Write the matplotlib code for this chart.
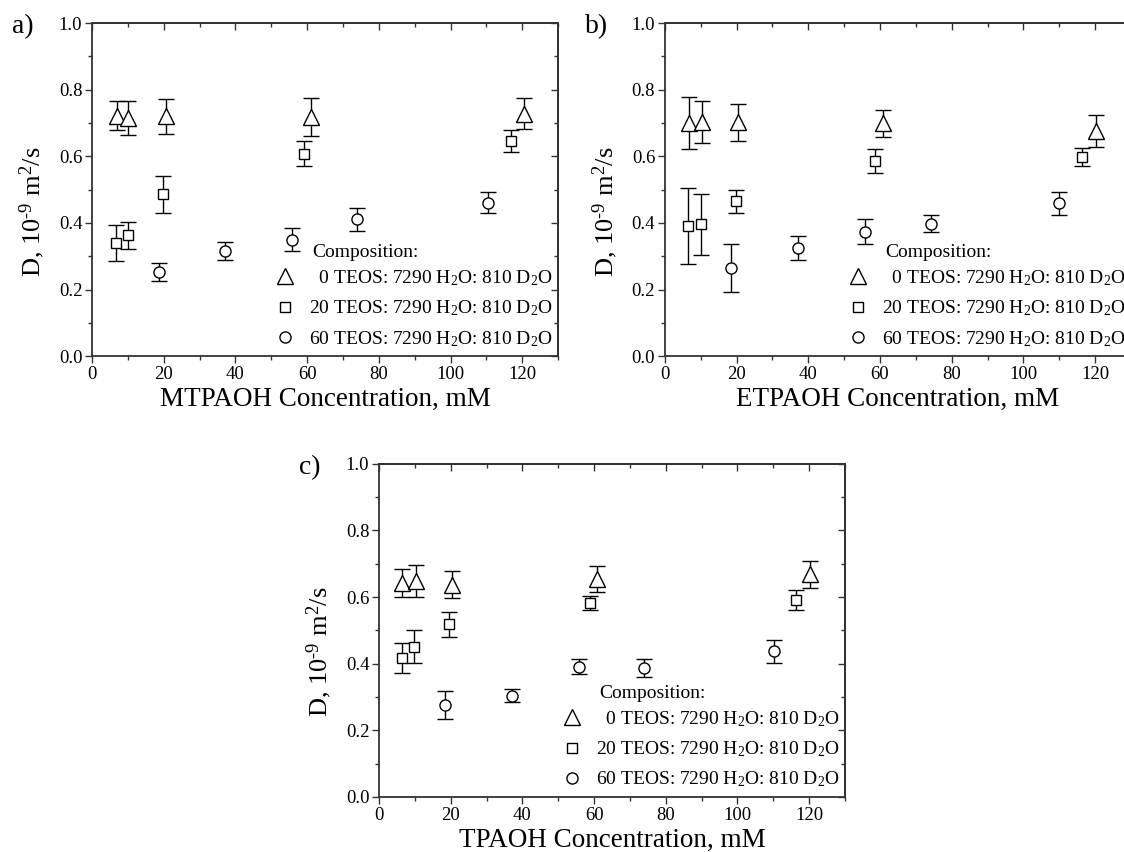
import matplotlib
matplotlib.use('Agg')
import matplotlib.pyplot as plt
from matplotlib.lines import Line2D
from matplotlib.ticker import MultipleLocator

plt.rcParams['font.family'] = ['Liberation Serif', 'DejaVu Serif']
plt.rcParams['mathtext.fontset'] = 'custom'
plt.rcParams['mathtext.rm'] = 'Liberation Serif'
plt.rcParams['mathtext.it'] = 'Liberation Serif:italic'

# panel a) MTPAOH
a_x0 = [7, 10, 20.5, 61, 120.5]
a_y0 = [0.722, 0.715, 0.720, 0.718, 0.728]
a_e0 = [0.044, 0.051, 0.053, 0.056, 0.046]
a_x20 = [6.6, 10, 19.9, 59, 116.8]
a_y20 = [0.339, 0.363, 0.486, 0.608, 0.646]
a_e20 = [0.054, 0.040, 0.056, 0.038, 0.033]
a_x60 = [18.6, 37.2, 55.7, 74, 110.4]
a_y60 = [0.254, 0.315, 0.350, 0.411, 0.461]
a_e60 = [0.027, 0.027, 0.035, 0.035, 0.031]

# panel b) ETPAOH
b_x0 = [6.8, 10.3, 20.4, 60.8, 120.2]
b_y0 = [0.701, 0.702, 0.702, 0.699, 0.676]
b_e0 = [0.078, 0.063, 0.055, 0.040, 0.048]
b_x20 = [6.5, 10, 19.8, 58.7, 116.3]
b_y20 = [0.391, 0.396, 0.465, 0.586, 0.598]
b_e20 = [0.113, 0.092, 0.035, 0.036, 0.028]
b_x60 = [18.4, 37.2, 55.8, 74.1, 110]
b_y60 = [0.264, 0.325, 0.374, 0.398, 0.459]
b_e60 = [0.072, 0.037, 0.038, 0.026, 0.035]

# panel c) TPAOH
c_x0 = [6.5, 10.3, 20.3, 60.7, 120.3]
c_y0 = [0.643, 0.649, 0.637, 0.654, 0.668]
c_e0 = [0.042, 0.048, 0.040, 0.040, 0.040]
c_x20 = [6.4, 9.8, 19.6, 58.8, 116.4]
c_y20 = [0.417, 0.451, 0.518, 0.582, 0.591]
c_e20 = [0.044, 0.050, 0.037, 0.020, 0.029]
c_x60 = [18.5, 37.1, 55.7, 74, 110.3]
c_y60 = [0.277, 0.304, 0.391, 0.386, 0.437]
c_e60 = [0.042, 0.020, 0.022, 0.027, 0.034]

labels = ['  0 TEOS: 7290 H$_2$O: 810 D$_2$O',
          '20 TEOS: 7290 H$_2$O: 810 D$_2$O',
          '60 TEOS: 7290 H$_2$O: 810 D$_2$O']
markers = ['^', 's', 'o']
sizes = [11, 7.5, 8]
ylabel = r'D, 10$^{\text{-9}}$ m$^2$/s'
spine_col = '#333333'


#draw one panel
def draw_panel(ax, series, xlabel, tag):
    for (x, y, e), m, ms in zip(series, markers, sizes):
        ax.errorbar(x, y, yerr=e, fmt=m, ms=ms, mfc='white', mec='black', mew=1,
                    ecolor='black', elinewidth=1, capsize=5.5, capthick=1)
    ax.set_xlim(0, 130)
    ax.set_ylim(0, 1.0)
    ax.xaxis.set_major_locator(MultipleLocator(20))
    ax.xaxis.set_minor_locator(MultipleLocator(10))
    ax.yaxis.set_major_locator(MultipleLocator(0.2))
    ax.yaxis.set_minor_locator(MultipleLocator(0.1))
    ax.yaxis.set_major_formatter(matplotlib.ticker.FormatStrFormatter('%.1f'))
    ax.tick_params(which='major', direction='out', length=5, width=1, color=spine_col,
                   labelsize=13.5, pad=2)
    ax.tick_params(which='minor', direction='out', length=3, width=1, color=spine_col)
    for s in ax.spines.values():
        s.set_color(spine_col)
        s.set_linewidth(1.3)
    # inward ticks on top and right
    top = ax.secondary_xaxis('top')
    top.xaxis.set_major_locator(MultipleLocator(20))
    top.xaxis.set_minor_locator(MultipleLocator(10))
    top.tick_params(which='major', direction='in', length=5, width=1, color=spine_col, labeltop=False)
    top.tick_params(which='minor', direction='in', length=3, width=1, color=spine_col)
    top.spines['top'].set_color(spine_col)
    top.spines['top'].set_linewidth(1.3)
    right = ax.secondary_yaxis('right')
    right.yaxis.set_major_locator(MultipleLocator(0.2))
    right.yaxis.set_minor_locator(MultipleLocator(0.1))
    right.tick_params(which='major', direction='in', length=5, width=1, color=spine_col, labelright=False)
    right.tick_params(which='minor', direction='in', length=3, width=1, color=spine_col)
    right.spines['right'].set_color(spine_col)
    right.spines['right'].set_linewidth(1.3)

    ax.set_xlabel(xlabel, fontsize=19.5, labelpad=3)
    ax.set_ylabel(ylabel, fontsize=19)
    ax.yaxis.set_label_coords(-0.097, 0.435)

    handles = [Line2D([], [], ls='none', marker=m, ms=ms, mfc='white', mec='black', mew=1)
               for m, ms in zip(markers, sizes)]
    ax.legend(handles, labels, loc='lower right', bbox_to_anchor=(1.027, -0.03),
              frameon=False, fontsize=14, handletextpad=0.5, labelspacing=0.55,
              handlelength=1.5)
    ax.text(0.472, 0.31, 'Composition:', transform=ax.transAxes, fontsize=14,
            ha='left', va='center')
    ax.text(-0.172, 0.99, tag, transform=ax.transAxes, fontsize=20, ha='left', va='center')


fig = plt.figure(figsize=(11.24, 8.52), dpi=100)
ax_a = fig.add_axes([0.0819, 0.582, 0.4146, 0.391])
ax_b = fig.add_axes([0.5916, 0.582, 0.4146, 0.391])
ax_c = fig.add_axes([0.3372, 0.0646, 0.4146, 0.391])

draw_panel(ax_a, [(a_x0, a_y0, a_e0), (a_x20, a_y20, a_e20), (a_x60, a_y60, a_e60)],
           'MTPAOH Concentration, mM', 'a)')
draw_panel(ax_b, [(b_x0, b_y0, b_e0), (b_x20, b_y20, b_e20), (b_x60, b_y60, b_e60)],
           'ETPAOH Concentration, mM', 'b)')
draw_panel(ax_c, [(c_x0, c_y0, c_e0), (c_x20, c_y20, c_e20), (c_x60, c_y60, c_e60)],
           'TPAOH Concentration, mM', 'c)')

fig.savefig('out.png', dpi=100)
